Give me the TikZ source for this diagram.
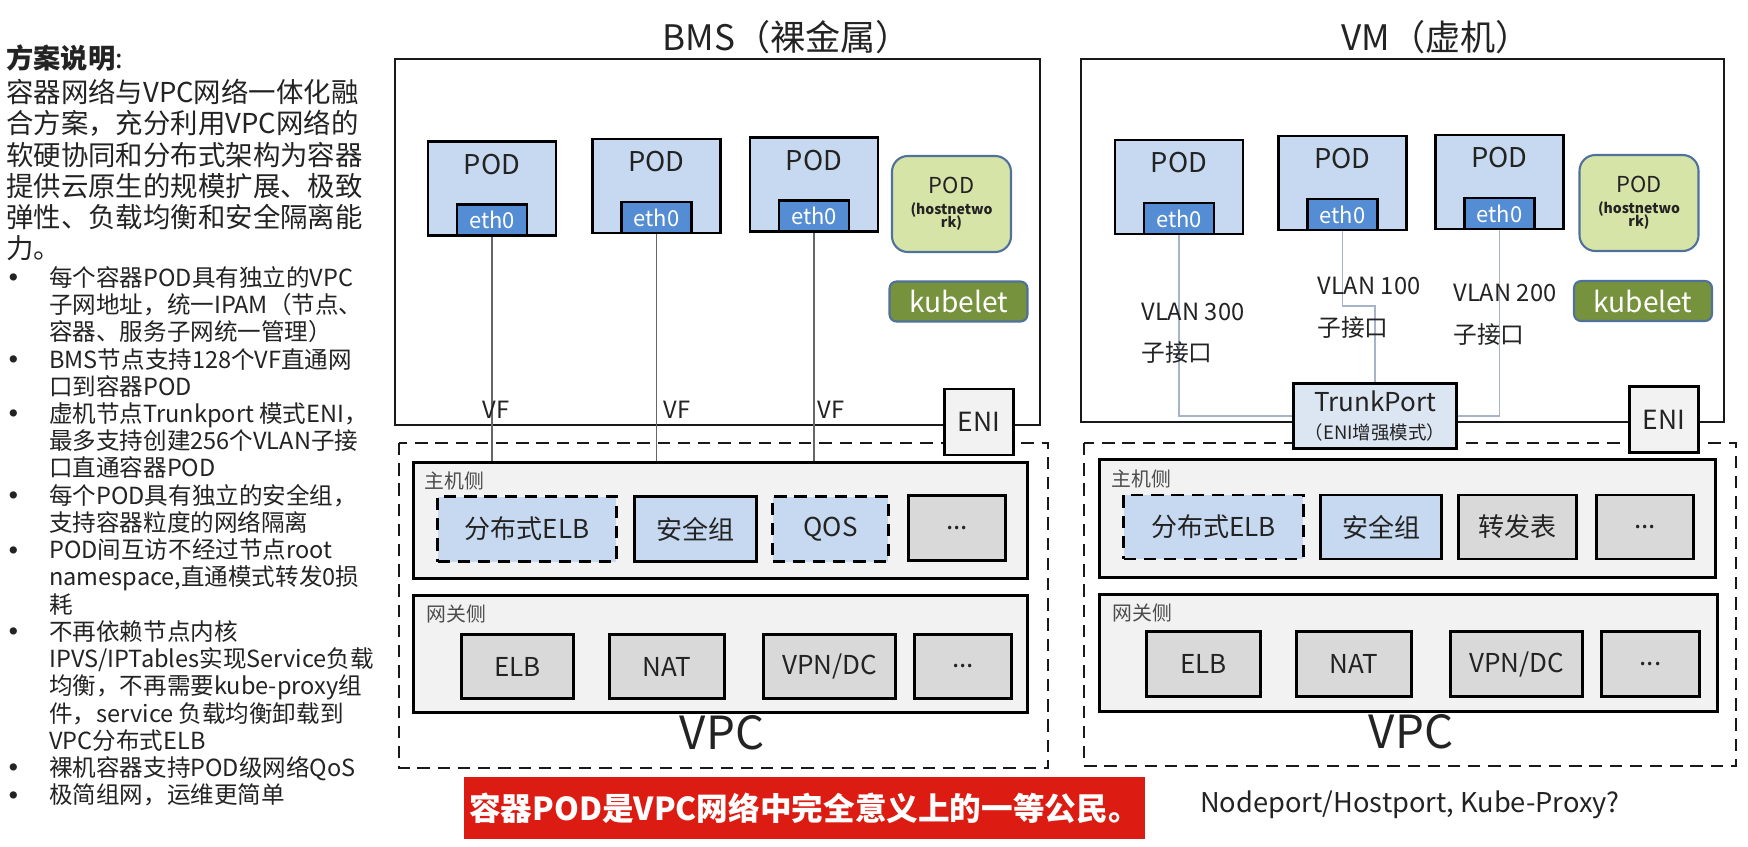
\documentclass[tikz,border=0pt]{standalone}
\usepackage{fontspec}
\setmainfont{Noto Sans CJK SC}
\usetikzlibrary{positioning}

\definecolor{textdark}{RGB}{35,35,35}
\definecolor{podblue}{RGB}{198,217,240}
\definecolor{ethblue}{RGB}{84,141,212}
\definecolor{hostgreen}{RGB}{215,228,168}
\definecolor{kubegreen}{RGB}{118,146,60}
\definecolor{hostedge}{RGB}{79,113,156}
\definecolor{layergray}{RGB}{242,242,242}
\definecolor{itemgray}{RGB}{217,217,217}
\definecolor{trunkblue}{RGB}{220,230,242}
\definecolor{linkgray}{RGB}{166,180,200}
\definecolor{bannerred}{RGB}{220,28,18}

\newcommand{\itemdot}{\makebox[0.86cm][l]{\hspace{0.06cm}\raisebox{3.2pt}{\fontsize{4.6}{5}\selectfont ●}}}
\newcommand{\itemgap}{\hspace*{0.86cm}}

\begin{document}
\begin{tikzpicture}[x=0.02cm,y=-0.02cm,
  title/.style={inner sep=0pt,font=\fontsize{20}{24}\selectfont,text=textdark},
  hostframe/.style={draw=black!90,line width=1.3pt},
  vpcframe/.style={draw=black!90,line width=1.3pt,dash pattern=on 7pt off 4.5pt},
  podbox/.style={draw=black,line width=1.6pt,fill=podblue,minimum width=2.56cm,minimum height=1.88cm,inner sep=0pt},
  podlabel/.style={inner sep=0pt,font=\fontsize{15.5}{18}\selectfont,text=textdark},
  ethbox/.style={draw=black,line width=1.6pt,fill=ethblue,text=white,minimum width=1.4cm,minimum height=0.62cm,inner sep=0pt,font=\fontsize{12.5}{14}\selectfont},
  hostpod/.style={draw=hostedge,line width=1.2pt,fill=hostgreen,rounded corners=9pt,minimum width=2.38cm,minimum height=1.92cm,inner sep=0pt,align=center,text=textdark,font=\fontsize{8}{9}\selectfont\bfseries},
  kubebox/.style={draw=hostedge,line width=1.2pt,fill=kubegreen,rounded corners=4pt,text=white,minimum width=2.76cm,minimum height=0.8cm,inner sep=0pt,font=\fontsize{16}{18}\selectfont},
  enibox/.style={draw=black,line width=1.6pt,fill=layergray,minimum width=1.38cm,minimum height=1.32cm,inner sep=0pt,font=\fontsize{15}{17}\selectfont,text=textdark},
  trunkbox/.style={draw=black,line width=1.6pt,fill=trunkblue,minimum width=3.26cm,minimum height=1.3cm,inner sep=0pt,align=center,text=textdark,font=\fontsize{10.5}{16}\selectfont},
  layer/.style={draw=black,line width=1.6pt,fill=layergray,inner sep=0pt},
  sidelabel/.style={anchor=west,inner sep=0pt,font=\fontsize{11.3}{13}\selectfont,text=black!70},
  item/.style={draw=black,line width=1.6pt,inner sep=0pt,font=\fontsize{14.8}{17}\selectfont,text=textdark},
  blueitem/.style={item,fill=podblue},
  grayitem/.style={item,fill=itemgray},
  dashitem/.style={blueitem,dash pattern=on 7pt off 4.5pt},
  vflink/.style={draw=black!60,line width=0.6pt},
  vlanlink/.style={draw=linkgray,line width=0.7pt},
  linklabel/.style={inner sep=0pt,font=\fontsize{13.5}{15}\selectfont,text=textdark},
  vpclabel/.style={inner sep=0pt,font=\fontsize{26}{30}\selectfont,text=textdark}]
\useasboundingbox[fill=white] (0,0) rectangle (1748,846);

% description column
\node[anchor=west,inner sep=0pt,font=\fontsize{15.5}{18}\selectfont,text=textdark] (dhead) at (6,58) {{\bfseries 方案说明}:};
\node[anchor=north west,inner sep=0pt,align=left,font=\fontsize{15.6}{17.75}\selectfont,text=textdark] (dpara) at (6,79) {容器网络与VPC网络一体化融\\合方案，充分利用VPC网络的\\软硬协同和分布式架构为容器\\提供云原生的规模扩展、极致\\弹性、负载均衡和安全隔离能\\力。};
\node[anchor=north west,inner sep=0pt,align=left,font=\fontsize{13.4}{15.5}\selectfont,text=textdark] (dlist) at (6,266) {\itemdot 每个容器POD具有独立的VPC\\\itemgap 子网地址，统一IPAM（节点、\\\itemgap 容器、服务子网统一管理）\\\itemdot BMS节点支持128个VF直通网\\\itemgap 口到容器POD\\\itemdot 虚机节点Trunkport 模式ENI，\\\itemgap 最多支持创建256个VLAN子接\\\itemgap 口直通容器POD\\\itemdot 每个POD具有独立的安全组，\\\itemgap 支持容器粒度的网络隔离\\\itemdot POD间互访不经过节点root\\\itemgap namespace,直通模式转发0损\\\itemgap 耗\\\itemdot 不再依赖节点内核\\\itemgap IPVS/IPTables实现Service负载\\\itemgap 均衡，不再需要kube-proxy组\\\itemgap 件，service 负载均衡卸载到\\\itemgap VPC分布式ELB\\\itemdot 裸机容器支持POD级网络QoS\\\itemdot 极简组网，运维更简单};

% BMS side
\node[title] (bmst) at (787,37) {BMS（裸金属）};
\draw[hostframe] (395,59) rectangle (1040,425);
\draw[vpcframe] (399,443) rectangle (1048,768);
\node[layer,minimum width=12.28cm,minimum height=2.32cm] (bhost) at (720.5,520.5) {};
\node[layer,minimum width=12.28cm,minimum height=2.34cm] (bgate) at (720.5,654) {};
\node[sidelabel] (bhostl) at ([shift={(12,20)}]bhost.north west) {主机侧};
\node[sidelabel] (bgatel) at ([shift={(14,20)}]bgate.north west) {网关侧};
\node[dashitem,minimum width=3.58cm,minimum height=1.3cm] (bh1) at (527,529) {分布式ELB};
\node[blueitem,minimum width=2.44cm,minimum height=1.3cm] (bh2) at (695.5,529) {安全组};
\node[dashitem,minimum width=2.32cm,minimum height=1.3cm] (bh3) at (830.5,529) {QOS};
\node[grayitem,minimum width=1.94cm,minimum height=1.3cm] (bh4) at (957,528) {...};
\node[grayitem,minimum width=2.24cm,minimum height=1.28cm] (bg1) at (517.5,666.5) {ELB};
\node[grayitem,minimum width=2.3cm,minimum height=1.28cm] (bg2) at (667,666.5) {NAT};
\node[grayitem,minimum width=2.64cm,minimum height=1.28cm] (bg3) at (829.5,666.5) {VPN/DC};
\node[grayitem,minimum width=1.94cm,minimum height=1.28cm] (bg4) at (963,666.5) {...};
\node[vpclabel] (bvpc) at (722,733) {VPC};
\foreach \n/\x/\y in {1/492/188.5,2/656.5/186,3/814/184.5} {
  \node[podbox] (bp\n) at (\x,\y) {};
  \node[podlabel,below=0.27cm of bp\n.north] (bpl\n) {POD};
  \node[ethbox,above=0pt of bp\n.south] (be\n) {eth0};
  \draw[vflink] (be\n.south) -- (be\n.south |- bhost.north);
}
\node[linklabel] (bvf1) at (496,410) {VF};
\node[linklabel] (bvf2) at (677,410) {VF};
\node[linklabel] (bvf3) at (831,410) {VF};
\node[hostpod] (bhp) at (951.5,204) {{\fontsize{12.5}{14}\mdseries\selectfont POD}\\[3pt](hostnetwo\\[-1.5pt]rk)};
\node[kubebox] (bkube) at (958.5,301.5) {kubelet};
\node[enibox] (beni) at (979,422) {ENI};

% VM side
\node[title] (vmt) at (1436,37) {VM（虚机）};
\draw[hostframe] (1081,59) rectangle (1724,422);
\draw[vpcframe] (1084,443) rectangle (1736,766);
\node[layer,minimum width=12.32cm,minimum height=2.36cm] (vhost) at (1407.5,518.5) {};
\node[layer,minimum width=12.36cm,minimum height=2.34cm] (vgate) at (1408.5,653) {};
\node[sidelabel] (vhostl) at ([shift={(13,21)}]vhost.north west) {主机侧};
\node[sidelabel] (vgatel) at ([shift={(14,20)}]vgate.north west) {网关侧};
\node[dashitem,minimum width=3.6cm,minimum height=1.28cm] (vh1) at (1213.5,527) {分布式ELB};
\node[blueitem,minimum width=2.42cm,minimum height=1.28cm] (vh2) at (1381,527) {安全组};
\node[grayitem,minimum width=2.36cm,minimum height=1.28cm] (vh3) at (1517.5,527) {转发表};
\node[grayitem,minimum width=1.94cm,minimum height=1.28cm] (vh4) at (1645,527) {...};
\node[grayitem,minimum width=2.28cm,minimum height=1.3cm] (vg1) at (1203.5,664) {ELB};
\node[grayitem,minimum width=2.3cm,minimum height=1.3cm] (vg2) at (1354,664) {NAT};
\node[grayitem,minimum width=2.64cm,minimum height=1.3cm] (vg3) at (1516.5,664) {VPN/DC};
\node[grayitem,minimum width=1.96cm,minimum height=1.3cm] (vg4) at (1650.5,664) {...};
\node[vpclabel] (vvpc) at (1411,732) {VPC};
\foreach \n/\x/\y in {1/1179/187,2/1342.5/183,3/1499.5/182} {
  \node[podbox] (vp\n) at (\x,\y) {};
  \node[podlabel,below=0.27cm of vp\n.north] (vpl\n) {POD};
  \node[ethbox,above=0pt of vp\n.south] (ve\n) {eth0};
}
\node[trunkbox] (trunk) at (1375,416) {{\fontsize{14.8}{16}\selectfont TrunkPort}\\（ENI增强模式）};
\coordinate (v2bend) at (1342.5,306);
\draw[vlanlink] (ve1.south) |- (trunk.west);
\draw[vlanlink] (ve2.south) -- (v2bend) -| (trunk.north);
\draw[vlanlink] (ve3.south) |- (trunk.east);
\node[linklabel,anchor=west] (vl300) at (1141,312) {VLAN 300};
\node[linklabel,anchor=west] (vs300) at (1141,353) {子接口};
\node[linklabel,anchor=west] (vl100) at (1317,286) {VLAN 100};
\node[linklabel,anchor=west] (vs100) at (1317,328) {子接口};
\node[linklabel,anchor=west] (vl200) at (1453,293) {VLAN 200};
\node[linklabel,anchor=west] (vs200) at (1453,335) {子接口};
\node[hostpod] (vhp) at (1639,203) {{\fontsize{12.5}{14}\mdseries\selectfont POD}\\[3pt](hostnetwo\\[-1.5pt]rk)};
\node[kubebox] (vkube) at (1643,301) {kubelet};
\node[enibox] (veni) at (1664,419.5) {ENI};

% bottom line
\node[fill=bannerred,text=white,minimum width=13.62cm,minimum height=1.24cm,inner sep=0pt,font=\fontsize{18}{21}\selectfont\bfseries] (slogan) at (804.5,808) {容器POD是VPC网络中完全意义上的一等公民。};
\node[inner sep=0pt,font=\fontsize{15.5}{18}\selectfont,text=textdark] (askq) at (1410,805) {Nodeport/Hostport, Kube-Proxy?};
\end{tikzpicture}
\end{document}
